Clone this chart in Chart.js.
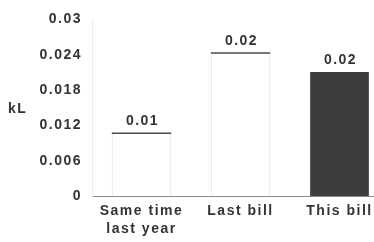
<!DOCTYPE html>
<html>
<head>
<meta charset="utf-8">
<script src="https://cdn.jsdelivr.net/npm/chart.js@4/dist/chart.umd.min.js"></script>
<style>
  html, body { margin: 0; padding: 0; background: #fff; overflow: hidden; }
  #wrap { width: 374px; height: 242px; overflow: hidden; position: relative; }
  canvas { display: block; }
</style>
</head>
<body>
<div id="wrap"><canvas id="c" width="400" height="242"></canvas></div>
<script>
const categories = [['Same time', 'last year'], 'Last bill', 'This bill'];
const usage = [0.0107, 0.0243, 0.0211];
const yTicks = [0, 0.006, 0.012, 0.018, 0.024, 0.03];
const unitLabel = 'kL';
const barFills = ['#ffffff', '#ffffff', '#3d3d3d'];
const barEdges = ['#e2e2e2', '#e2e2e2', '#3d3d3d'];

const TEXT = '#333333';
const SPACING = '1.5px';
const FONT = { family: '"Liberation Sans", Arial, sans-serif', size: 14, weight: 'bold', lineHeight: 1.35 };

const spacingPlugin = {
  id: 'spacing',
  beforeUpdate(chart) { chart.ctx.letterSpacing = SPACING; },
  beforeDraw(chart) { chart.ctx.letterSpacing = SPACING; }
};

const extrasPlugin = {
  id: 'extras',
  afterDatasetsDraw(chart) {
    const ctx = chart.ctx;
    const meta = chart.getDatasetMeta(0);
    ctx.save();
    ctx.letterSpacing = SPACING;
    meta.data.forEach((el, i) => {
      if (barFills[i] === '#ffffff') {
        ctx.strokeStyle = '#4a4a4a';
        ctx.lineWidth = 1.5;
        ctx.beginPath();
        ctx.moveTo(el.x - el.width / 2, el.y);
        ctx.lineTo(el.x + el.width / 2, el.y);
        ctx.stroke();
      }
      ctx.fillStyle = TEXT;
      ctx.font = `${FONT.weight} ${FONT.size}px ${FONT.family}`;
      ctx.textAlign = 'center';
      ctx.textBaseline = 'middle';
      ctx.fillText(usage[i].toFixed(2), el.x + 1, el.y - 12);
    });
    const ys = chart.scales.y;
    ctx.textAlign = 'left';
    ctx.fillText(unitLabel, 8, ys.getPixelForValue(0.0148));
    ctx.restore();
  }
};

new Chart(document.getElementById('c'), {
  type: 'bar',
  data: {
    labels: categories,
    datasets: [{
      data: usage,
      backgroundColor: barFills,
      borderColor: barEdges,
      borderWidth: { top: 0, left: 1, right: 1, bottom: 0 },
      borderSkipped: false,
      categoryPercentage: 1,
      barPercentage: 0.6
    }]
  },
  options: {
    responsive: false,
    animation: false,
    devicePixelRatio: 1,
    layout: { padding: { top: 10, right: 11, left: 0, bottom: -2 } },
    plugins: { legend: { display: false }, tooltip: { enabled: false } },
    scales: {
      x: {
        grid: { display: false, drawTicks: false },
        border: { display: true, color: '#8a8a8a', width: 1, dash: [10, 3] },
        ticks: { color: TEXT, font: FONT, padding: 5, maxRotation: 0, autoSkip: false }
      },
      y: {
        min: 0, max: 0.03,
        afterBuildTicks(scale) { scale.ticks = yTicks.map(v => ({ value: v })); },
        afterFit(scale) { scale.width = 92; },
        grid: { display: false, drawTicks: false },
        border: { display: true, color: '#ececec', width: 1 },
        ticks: { color: TEXT, font: FONT, padding: 10, callback: v => String(v) }
      }
    }
  },
  plugins: [spacingPlugin, extrasPlugin]
});
</script>
</body>
</html>
